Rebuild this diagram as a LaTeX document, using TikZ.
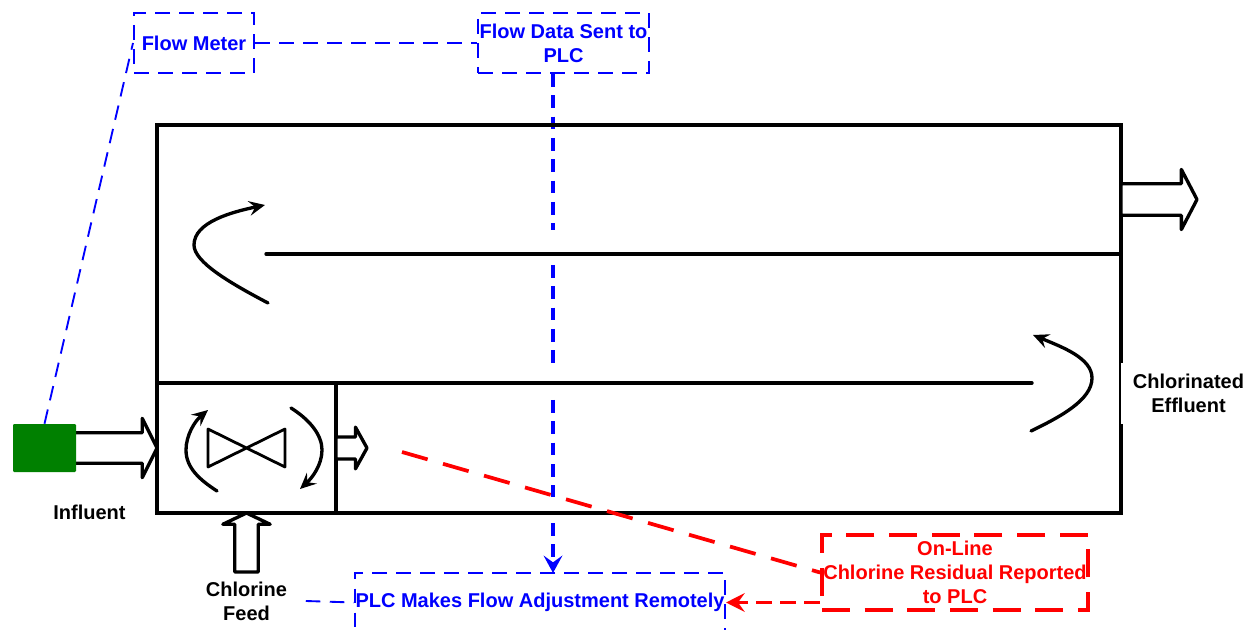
\documentclass[tikz,border=0pt]{standalone}
\usepackage{fontspec}
\setmainfont{Liberation Sans}
\usetikzlibrary{shapes.arrows, arrows.meta, positioning}

\tikzset{
    label/.style={font=\bfseries\fontsize{15}{18}\selectfont, align=center, inner sep=0pt},
    bluebox/.style={label, rectangle, draw=blue, text=blue, line width=1.5pt, dash pattern=on 11pt off 7pt},
    redbox/.style={label, rectangle, draw=red, text=red, line width=2.8pt, dash pattern=on 21pt off 11pt},
    wall/.style={draw, line width=2.5pt, inner sep=0pt, outer sep=0pt},
    blockarrow/.style={single arrow, draw, fill=white, line width=2.5pt, line join=round, inner xsep=0pt, outer sep=0pt, single arrow head indent=0pt},
    thinflow/.style={blue, line width=1.4pt, dash pattern=on 11pt off 7pt},
    thickflow/.style={blue, line width=2.6pt, dash pattern=on 9.5pt off 6.5pt},
    redflow/.style={red, line width=2.8pt, dash pattern=on 20pt off 12pt},
    swirl/.style={line width=2.5pt, line cap=round, -{Stealth[length=12pt, width=11pt, inset=4.5pt]}}
}

\begin{document}
\begin{tikzpicture}[x=0.75pt, y=-0.75pt]
    \useasboundingbox (0,0) rectangle (1248,630);

    \node (flowmeter) [bluebox, minimum width=90pt, minimum height=45pt] at (194,43) {Flow Meter};
    \node (flowdata) [bluebox, minimum width=128.25pt, minimum height=45pt] at (563.5,43) {Flow Data Sent to\\PLC};
    \node (plc) [bluebox, minimum width=277.5pt, minimum height=45pt] at (540,602.5) {PLC Makes Flow Adjustment Remotely};
    \coordinate (drop) at (553,573);

    \draw [thickflow, -{Stealth[length=13pt, width=14pt, inset=5pt]}] (drop |- flowdata.south) -- (553,230) (553,265) -- (553,365) (553,400) -- (553,497) (553,523) -- (drop);

    \node (tank) [wall, rectangle, minimum width=723pt, minimum height=291pt] at (639,319) {};
    \node (mixer) [wall, rectangle, minimum width=134.25pt, minimum height=97.5pt] at (246.5,448) {};
    \coordinate (upperend) at (266,254);
    \coordinate (lowerend) at (1032,383);
    \draw [wall, line cap=round] (upperend) -- (upperend -| tank.east);
    \draw [wall, line cap=round] (lowerend) -- (lowerend -| tank.west);

    \node (effluent) [label, fill=white, minimum width=101.25pt, minimum height=45.75pt] at (1188.5,393.5) {Chlorinated\\Effluent};
    \node (effluentarrow) [blockarrow, anchor=tail, inner ysep=10.6pt, minimum height=57pt, minimum width=42.6pt, single arrow head extend=10.7pt, single arrow tip angle=125] at (1121,199.5) {};
    \node (outletarrow) [blockarrow, anchor=tail, inner ysep=7pt, minimum height=23.25pt, minimum width=28.8pt, single arrow head extend=7.4pt, single arrow tip angle=122] at (mixer.east) {};
    \node (influentarrow) [blockarrow, anchor=tip, inner ysep=10.2pt, minimum height=66pt, minimum width=42pt, single arrow head extend=10.8pt, single arrow tip angle=127] at (mixer.west) {};
    \node (feedarrow) [blockarrow, anchor=tip, rotate=90, inner ysep=7.6pt, minimum height=44.25pt, minimum width=33pt, single arrow head extend=8.9pt, single arrow tip angle=129] at (mixer.south) {};

    \node (meter) [rectangle, fill={rgb,255:red,0;green,128;blue,0}, rounded corners=0.8pt, minimum width=47.25pt, minimum height=36pt, inner sep=0pt] at (44.5,448) {};
    \node (influent) [label] at (89.5,512) {Influent};
    \node (feed) [label, minimum width=88.5pt] at (246.5,601) {Chlorine\\Feed};

    \draw [thinflow] (meter.north) -- (flowmeter.west);
    \draw [thinflow] (flowmeter.east) -- (flowdata.west);
    \draw [thinflow] (feed.east) -- (plc.west);

    \draw [line width=2.1pt, line join=round] (208,429) -- (208,467) -- (285,429) -- (285,467) -- cycle;
    \draw [swirl] (268,303) .. controls (230,283) and (194,262) .. (194,245) .. controls (194,222) and (232,212) .. (265,205);
    \draw [swirl] (1031,431) .. controls (1060,417) and (1092,400) .. (1092,378) .. controls (1092,358) and (1062,347) .. (1033,335);
    \draw [swirl] (217,491) .. controls (200,480) and (186,468) .. (186,450) .. controls (186,435) and (195,421) .. (208,410);
    \draw [swirl] (291,408) .. controls (310,420) and (322,435) .. (322,450) .. controls (322,465) and (312,478) .. (300,489);

    \node (residual) [redbox, minimum width=199.5pt, minimum height=56.25pt] at (955,572.5) {On-Line\\Chlorine Residual Reported\\to PLC};
    \coordinate (sample) at (402,452);
    \draw [redflow] (sample) -- (residual.west);
    \draw [red, line width=2.25pt, dash pattern=on 12pt off 6pt, -{Stealth[length=14pt, width=14pt, inset=5pt]}] (residual.west |- plc.east) -- (plc.east);
\end{tikzpicture}
\end{document}
